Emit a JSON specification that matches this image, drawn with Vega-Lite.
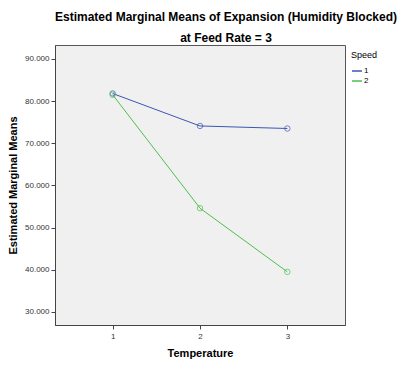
{
  "$schema": "https://vega.github.io/schema/vega-lite/v6.json",
  "autosize": {"type": "none"},
  "padding": {"left": 55, "top": 45, "right": 60, "bottom": 42},
  "width": 290,
  "height": 280,
  "background": "white",
  "title": {
    "text": ["Estimated Marginal Means of Expansion (Humidity Blocked)", "at Feed Rate = 3"],
    "font": "Liberation Sans",
    "fontSize": 12,
    "fontWeight": "bold",
    "color": "#000000",
    "anchor": "middle",
    "frame": "group",
    "dx": 26,
    "lineHeight": 21,
    "offset": 0
  },
  "config": {
    "view": {"fill": "#f0f0f0", "stroke": "#555555", "strokeWidth": 1},
    "axis": {
      "grid": false,
      "labelFont": "Liberation Sans",
      "titleFont": "Liberation Sans",
      "labelColor": "#333333",
      "titleColor": "#000000",
      "domainColor": "#444444",
      "tickColor": "#444444",
      "tickSize": 4
    }
  },
  "data": {
    "values": [
      {"Temperature": 1, "Speed": "1", "Mean": 81.8},
      {"Temperature": 2, "Speed": "1", "Mean": 74.1},
      {"Temperature": 3, "Speed": "1", "Mean": 73.5},
      {"Temperature": 1, "Speed": "2", "Mean": 81.5},
      {"Temperature": 2, "Speed": "2", "Mean": 54.6},
      {"Temperature": 3, "Speed": "2", "Mean": 39.5}
    ]
  },
  "encoding": {
    "x": {
      "field": "Temperature",
      "type": "quantitative",
      "scale": {"domain": [0.34, 3.66], "nice": false, "zero": false},
      "axis": {"values": [1, 2, 3], "format": "d", "title": "Temperature", "titleFontSize": 11, "titleFontWeight": "bold", "labelFontSize": 8, "titlePadding": 7, "labelPadding": 3}
    },
    "y": {
      "field": "Mean",
      "type": "quantitative",
      "scale": {"domain": [26.9, 93.3], "nice": false, "zero": false},
      "axis": {"values": [30, 40, 50, 60, 70, 80, 90], "format": ".3f", "title": "Estimated Marginal Means", "titleFontSize": 11, "titleFontWeight": "bold", "labelFontSize": 8, "titlePadding": 6, "labelPadding": 2}
    },
    "color": {
      "field": "Speed",
      "type": "nominal",
      "scale": {"domain": ["1", "2"], "range": ["#3d55b5", "#4cc04c"]}
    }
  },
  "layer": [
    {
      "mark": {"type": "line", "strokeWidth": 1},
      "encoding": {
        "color": {
          "field": "Speed",
          "type": "nominal",
          "scale": {"domain": ["1", "2"], "range": ["#3d55b5", "#4cc04c"]},
          "legend": {
            "orient": "none",
            "legendX": 296,
            "legendY": 6,
            "title": "Speed",
            "titleFont": "Liberation Sans",
            "titleFontSize": 9,
            "titleFontWeight": "normal",
            "titleColor": "#000000",
            "labelFont": "Liberation Sans",
            "labelFontSize": 8,
            "labelColor": "#000000",
            "symbolType": "stroke",
            "symbolSize": 100,
            "symbolStrokeWidth": 1.5,
            "rowPadding": -2,
            "labelOffset": 1,
            "titlePadding": 5
          }
        }
      }
    },
    {
      "mark": {"type": "point", "filled": false, "size": 30, "strokeWidth": 1},
      "encoding": {
        "color": {"field": "Speed", "type": "nominal", "legend": null}
      }
    }
  ]
}
